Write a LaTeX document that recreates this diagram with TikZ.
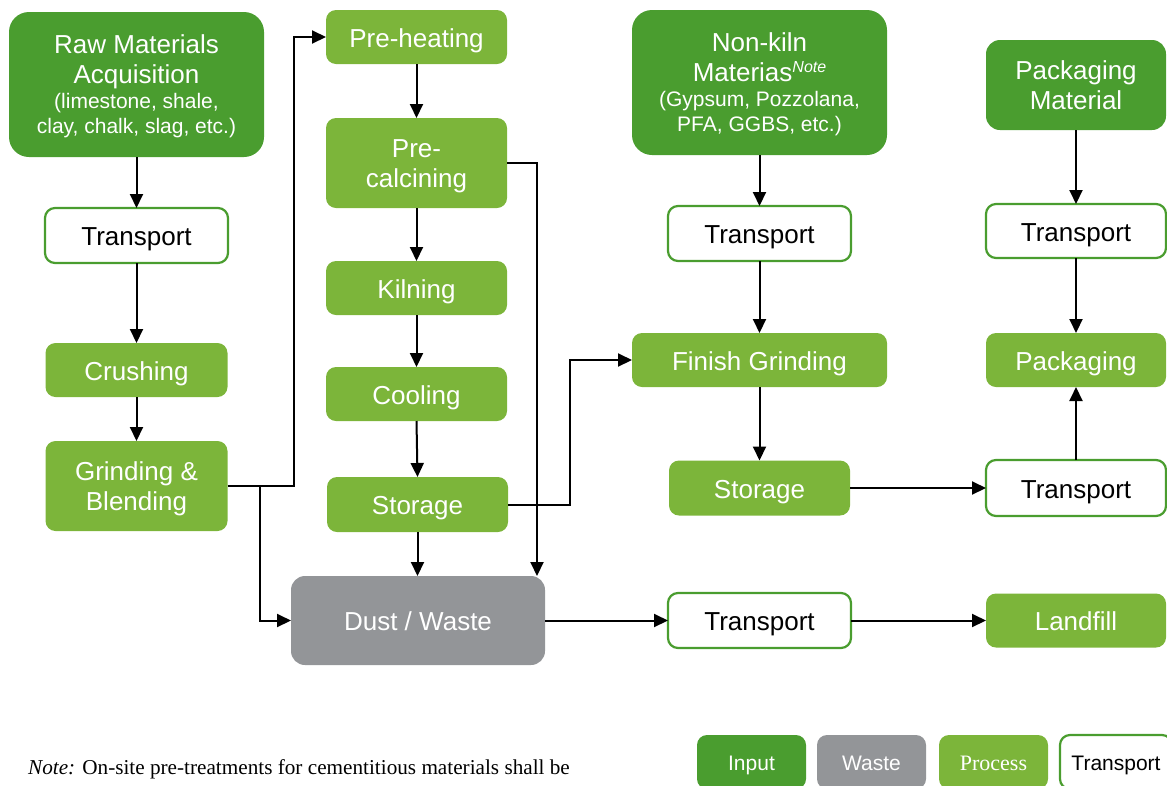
\documentclass[tikz,border=0pt]{standalone}
\usepackage{fontspec}
\setmainfont{Liberation Sans}
\newfontfamily\seriffont{Liberation Serif}
\usetikzlibrary{arrows.meta}
\definecolor{dkgreen}{HTML}{4A9D2F}
\definecolor{ltgreen}{HTML}{7CB53A}
\definecolor{wgray}{HTML}{939598}
\newcommand\mainf{\fontsize{26}{30}\selectfont}
\newcommand\subf{\fontsize{21}{24}\selectfont}
\newcommand\legf{\fontsize{21}{24}\selectfont}
\begin{document}
\begin{tikzpicture}[x=1pt,y=-1pt,
 tl/.style={text height=#1pt, text depth=0pt},
 box/.style={rectangle, rounded corners=10pt, align=center, inner sep=0pt, outer sep=0pt, font=\mainf, tl=20},
 inputbox/.style={box, fill=dkgreen, text=white},
 procbox/.style={box, fill=ltgreen, text=white},
 wastebox/.style={box, fill=wgray, text=white, rounded corners=14pt},
 transbox/.style={box, fill=white, draw=dkgreen, line width=2.2pt, text=black},
 arr/.style={line width=2pt, -{Triangle[length=14pt,width=13pt]}},
 sz/.style 2 args={minimum width=#1pt, minimum height=#2pt}
]
\clip (0,0) rectangle (1167,785);
\useasboundingbox (0,0) rectangle (1167,785);

% column 1
\node[inputbox, rounded corners=20pt, sz={255}{145}, tl=98] (raw) at (136.5,84.5)
 {Raw Materials\\Acquisition\\[-5pt]\subf (limestone, shale,\\[-5pt]\subf clay, chalk, slag, etc.)};
\node[transbox, sz={183}{55}] (t1) at (136.5,235.5) {Transport};
\node[procbox, sz={182}{54}] (crush) at (136.5,370) {Crushing};
\node[procbox, sz={182}{90}, tl=48] (grind) at (136.5,486) {Grinding \&\\Blending};

% column 2
\node[procbox, sz={181}{54}] (preheat) at (416.5,37) {Pre-heating};
\node[procbox, sz={181}{90}, tl=48] (precalc) at (416.5,163) {Pre-\\calcining};
\node[procbox, sz={181}{54}] (kiln) at (416.5,288) {Kilning};
\node[procbox, sz={181}{54}] (cool) at (416.5,394) {Cooling};
\node[procbox, sz={181}{55}] (stor1) at (417.5,504.5) {Storage};
\node[wastebox, sz={254}{89}] (dust) at (418,620.5) {Dust / Waste};

% column 3
\node[inputbox, rounded corners=20pt, sz={255}{145}, tl=98] (nonkiln) at (759.5,82.5)
 {Non-kiln\\Materias\raisebox{9pt}{\fontsize{16}{16}\selectfont\itshape Note}\\[-5pt]\subf (Gypsum, Pozzolana,\\[-5pt]\subf PFA, GGBS, etc.)};
\node[transbox, sz={183}{55}] (t2) at (759.5,233.5) {Transport};
\node[procbox, sz={255}{54}] (finish) at (759.5,360) {Finish Grinding};
\node[procbox, sz={181}{55}] (stor2) at (759.5,488) {Storage};
\node[transbox, sz={183}{55}] (t3) at (759.5,620.5) {Transport};

% column 4
\node[inputbox, rounded corners=14pt, sz={180}{90}, tl=48] (packmat) at (1076,85) {Packaging\\Material};
\node[transbox, sz={180}{54}] (t4) at (1076,231) {Transport};
\node[procbox, sz={180}{54}] (pack) at (1076,360) {Packaging};
\node[transbox, sz={180}{56}] (t5) at (1076,488) {Transport};
\node[procbox, sz={180}{54}] (landfill) at (1076,620.5) {Landfill};

% connectors
\draw[arr] (raw) -- (t1);
\draw[arr] (t1) -- (crush);
\draw[arr] (crush) -- (grind);
\coordinate (jg) at (294,486);
\coordinate (jb) at (260,486);
\draw[arr] (grind.east) -- (jg) |- (preheat.west);
\draw[arr] (jb) |- (dust.west);
\draw[arr] (preheat) -- (precalc);
\draw[arr] (precalc) -- (kiln);
\draw[arr] (kiln) -- (cool);
\draw[arr] (cool.south) -- (stor1.north);
\draw[arr] (stor1) -- (stor1 |- dust.north);
\coordinate (jp) at (537,163);
\draw[arr] (precalc.east) -- (jp) -- (jp |- dust.north);
\coordinate (js) at (570,504.5);
\draw[arr] (stor1.east) -- (js) |- (finish.west);
\draw[arr] (nonkiln) -- (t2);
\draw[arr] (t2) -- (finish);
\draw[arr] (finish) -- (stor2);
\draw[arr] (stor2.east) -- (t5.west);
\draw[arr] (t5) -- (pack);
\draw[arr] (packmat) -- (t4);
\draw[arr] (t4) -- (pack);
\draw[arr] (dust.east) -- (t3.west);
\draw[arr] (t3) -- (landfill);

% note
\node[anchor=base west, inner sep=0pt, font=\seriffont\fontsize{21.2}{24}\selectfont] (note) at (28,774)
 {{\itshape Note:} On-site pre-treatments for cementitious materials shall be};

% legend
\node[inputbox, sz={109}{54}, font=\legf, tl=16] (lin) at (751.5,762) {Input};
\node[wastebox, rounded corners=10pt, sz={109}{54}, font=\legf, tl=16] (lwa) at (871.5,762) {Waste};
\node[procbox, sz={109}{54}, font=\seriffont\fontsize{22}{24}\selectfont, tl=16] (lpr) at (993.5,762) {Process};
\node[transbox, sz={112}{54}, font=\legf, tl=16] (ltr) at (1116,762) {Transport};
\end{tikzpicture}
\end{document}
